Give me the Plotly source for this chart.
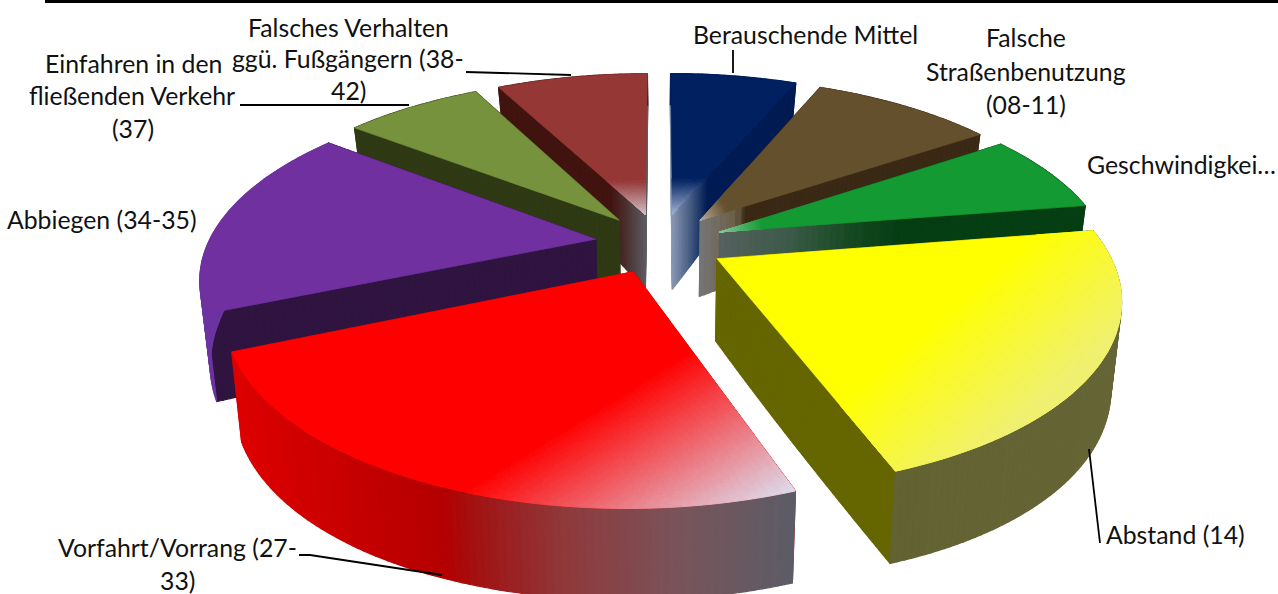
import math
import plotly.graph_objects as go

# ---- data ----
categories = ["Berauschende Mittel", "Falsche Straßenbenutzung (08-11)", "Geschwindigkeit",
              "Abstand (14)", "Vorfahrt/Vorrang (27-33)", "Abbiegen (34-35)",
              "Einfahren in den fließenden Verkehr (37)", "Falsches Verhalten ggü. Fußgängern (38-42)"]
values = [23, 33, 25, 79, 87, 60.5, 25, 27.5]
top_colors = ["#002060", "#65502d", "#149a32", "#ffff00", "#ff0000", "#7030a0", "#76923c", "#953735"]

# label text: (text, centre x, centre y)
label_lines = [
    ("Falsches Verhalten", 348, 27), ("ggü. Fußgängern (38-", 348, 58), ("42)", 348, 90),
    ("Einfahren in den", 133, 63), ("fließenden Verkehr", 132, 95), ("(37)", 133, 128),
    ("Berauschende Mittel", 805, 34),
    ("Falsche", 1026, 37), ("Straßenbenutzung", 1026, 71), ("(08-11)", 1026, 104),
    ("Geschwindigkei…", 1181, 164), ("Abbiegen (34-35)", 102, 219), ("Abstand (14)", 1175, 534),
    ("Vorfahrt/Vorrang (27-", 177, 547), ("33)", 177, 580),
]
leaders = [
    [(466, 72), (571, 75)],
    [(240, 105), (409, 105)],
    [(733, 50), (733, 73)],
    [(1089, 449), (1100, 543)],
    [(299, 555), (310, 555), (442, 575)],
]

# ---- projection of the exploded, tilted pie ----
CX, CY, A, B, K, E = 660, 243, 178, 380, 0.194, 0.171
RIM_U = 1.02
SHRINK = 0.977


def proj(u, v):
    w = 1 - K * v
    return CX + B * u / w, CY + A * v / w


def thick(v):
    return 80 + 25.9 * v - 13.6 * v * v


def world(theta, r, mid):
    return (E * math.sin(mid) + RIM_U * r * math.sin(theta), -E * math.cos(mid) - r * math.cos(theta))


def top_pt(theta, r, mid):
    return proj(*world(theta, r, mid))


def bot_pt(theta, r, mid):
    u, v = world(theta, r, mid)
    x, y = proj(u, v)
    return CX + (x - CX) * SHRINK, y + thick(v)


def rgb(h):
    return tuple(int(h[i:i + 2], 16) for i in (1, 3, 5))


def mix(c1, c2, t):
    a, b = rgb(c1), rgb(c2)
    return "#%02x%02x%02x" % tuple(round(p + (q - p) * t) for p, q in zip(a, b))


def stops(lst, x):
    if x <= lst[0][0]:
        return lst[0][1]
    for (x0, c0), (x1, c1) in zip(lst, lst[1:]):
        if x <= x1:
            return mix(c0, c1, (x - x0) / (x1 - x0))
    return lst[-1][1]


def clamp(t):
    return max(0.0, min(1.0, t))


radial_stops = [
    [(672, "#8c9ab5"), (690, "#4a5f85"), (708, "#001c54")],
    [(702, "#757575"), (735, "#6e6048"), (748, "#3a2914")],
    [(722, "#56605e"), (790, "#3c5a48"), (850, "#174a22"), (900, "#063e14")],
    [(718, "#666600")],
    [(633, "#cc0000")],
    [(594, "#301440")],
    [(618, "#2f3a14")],
    [(610, "#421410"), (625, "#4a3030"), (645, "#5c5c62")],
]
arc_stops = [
    [(700, "#001a52")],
    [(800, "#3a2914")],
    [(1000, "#063e14")],
    [(885, "#666600"), (893, "#626232"), (1122, "#656536")],
    [(240, "#dc0000"), (440, "#b40000"), (480, "#a01515"), (560, "#90383a"), (680, "#78545a"), (793, "#5c5c66")],
    [(200, "#6c34a0")],
    [(350, "#2f3a14")],
    [(500, "#421410")],
]


def top_tint(i, x, y, tip):
    """Return (tint colour, amount) of the highlight on the top face."""
    if i == 0:
        return "#b4c4e0", clamp((y - 178) / 40)
    if i == 7:
        return "#d8d0d8", clamp((y - 180) / 38)
    if i == 1:
        return "#b8ae9e", clamp(1 - math.hypot(x - tip[0], y - tip[1]) / 30)
    if i == 2:
        return "#90c8a0", clamp(1 - math.hypot(x - tip[0], y - tip[1]) / 45)
    if i == 3:
        return "#f0f070", clamp((0.65 * x + 0.76 * y - 851) / 130)
    if i == 4:
        return "#dcdcec", clamp((0.523 * x + 0.852 * y - 660) / 173)
    return "#000000", 0.0


fig = go.Figure()


def flush(batch, width=0.7):
    for color, polys in batch.items():
        xs, ys = [], []
        for p in polys:
            xs += [q[0] for q in p] + [p[0][0], None]
            ys += [q[1] for q in p] + [p[0][1], None]
        fig.add_trace(go.Scatter(x=xs, y=ys, mode="lines", fill="toself", fillcolor=color,
                                 line=dict(color=color, width=width), hoverinfo="skip", showlegend=False))


total = sum(values)
spans = []
acc = 0.0
for val in values:
    spans.append((acc, acc + val / total * 2 * math.pi))
    acc += val / total * 2 * math.pi

for i in [0, 7, 1, 6, 2, 5, 3, 4]:
    a0, a1 = spans[i]
    mid = (a0 + a1) / 2
    tip = top_pt(a0, 0, mid)
    # radial faces
    batch = {}
    for th in (a0, a1):
        n = 60
        for j in range(n):
            r0, r1 = j / n, (j + 1) / n
            poly = [top_pt(th, r0, mid), top_pt(th, r1, mid), bot_pt(th, r1, mid), bot_pt(th, r0, mid)]
            xc = (poly[0][0] + poly[1][0]) / 2
            batch.setdefault(stops(radial_stops[i], xc), []).append(poly)
    flush(batch, 1.2)
    # outer rim
    batch = {}
    n = max(8, int((a1 - a0) * 60))
    for j in range(n):
        t0, t1 = a0 + (a1 - a0) * j / n, a0 + (a1 - a0) * (j + 1) / n
        poly = [top_pt(t0, 1, mid), top_pt(t1, 1, mid), bot_pt(t1, 1, mid), bot_pt(t0, 1, mid)]
        xc = (poly[0][0] + poly[1][0]) / 2
        batch.setdefault(stops(arc_stops[i], xc), []).append(poly)
    flush(batch, 1.2)
    # top face: base wedge, then highlight cells
    n = 90
    wedge = [tip] + [top_pt(a0 + (a1 - a0) * j / n, 1, mid) for j in range(n + 1)]
    flush({top_colors[i]: [wedge]})
    batch = {}
    nr, nt = 90, max(30, int((a1 - a0) * 110))
    for jr in range(nr):
        r0, r1 = jr / nr, (jr + 1) / nr
        for jt in range(nt):
            t0, t1 = a0 + (a1 - a0) * jt / nt, a0 + (a1 - a0) * (jt + 1) / nt
            poly = [top_pt(t0, r0, mid), top_pt(t1, r0, mid), top_pt(t1, r1, mid), top_pt(t0, r1, mid)]
            xc = sum(q[0] for q in poly) / 4
            yc = sum(q[1] for q in poly) / 4
            tint, amt = top_tint(i, xc, yc, tip)
            if amt > 0.02:
                level = round(amt * 48) / 48
                batch.setdefault(mix(top_colors[i], tint, level), []).append(poly)
    flush(batch, 1.0)

for seg in leaders:
    fig.add_trace(go.Scatter(x=[p[0] for p in seg], y=[p[1] for p in seg], mode="lines",
                             line=dict(color="#000000", width=1.8), hoverinfo="skip", showlegend=False))

for text, x, y in label_lines:
    fig.add_annotation(x=x, y=y, text=text, showarrow=False, xanchor="center", yanchor="middle",
                       font=dict(family="Lato, Carlito, sans-serif", size=24.8, color="#111111"))

fig.add_shape(type="rect", x0=45, x1=1278, y0=0, y1=3, fillcolor="#000000", line_width=0)

fig.update_layout(
    width=1278, height=594, margin=dict(l=0, r=0, t=0, b=0),
    paper_bgcolor="#ffffff", plot_bgcolor="#ffffff", showlegend=False,
    xaxis=dict(range=[0, 1278], visible=False, fixedrange=True),
    yaxis=dict(range=[594, 0], visible=False, fixedrange=True),
)
fig.write_html("out.html", config=dict(displayModeBar=False),
               post_script="document.body.style.margin='0';document.body.style.overflow='hidden';")
